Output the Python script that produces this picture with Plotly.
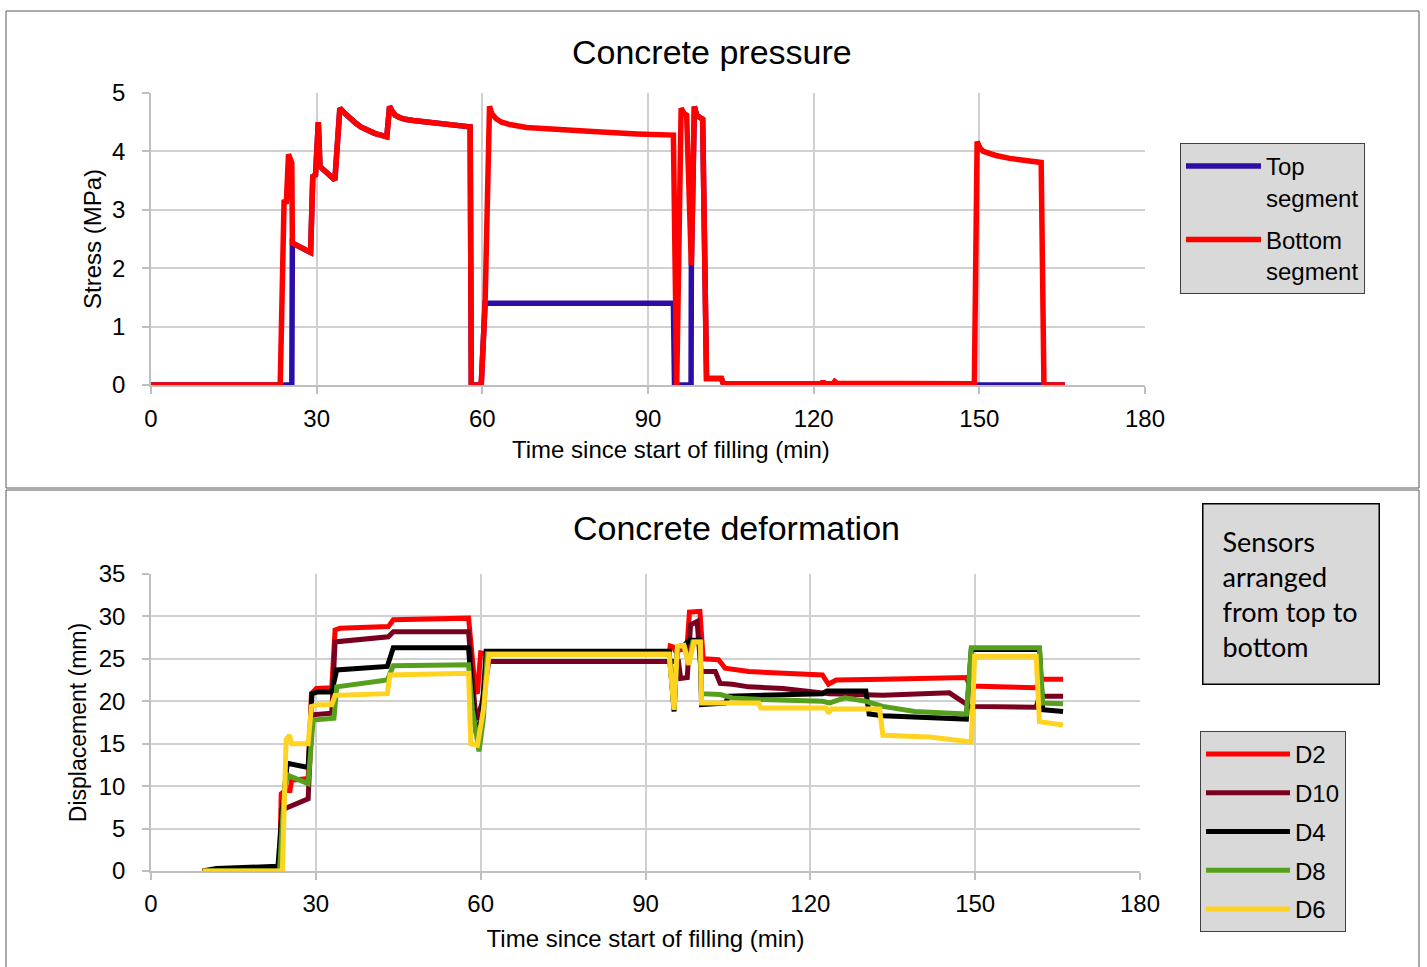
import plotly.graph_objects as go

# ---------------- Concrete pressure (top) ----------------
bottom_seg_t = [0, 23.4, 24.1, 24.5, 24.9, 25.5, 25.6, 28.9, 29.3, 29.8, 30.3, 30.6, 33.3, 34.2,
                34.8, 35.4, 36.2, 37, 38, 39, 40.5, 42.7, 43.2, 43.6, 44.2, 45, 46, 47.5, 49.3,
                53, 57.8, 58.0, 59.8, 60.5, 61.3, 61.7, 62.5, 63.5, 65, 68, 72, 80, 88, 94.6,
                95.2, 96.0, 96.6, 97.0, 97.85, 98.4, 98.8, 99.9, 100.6, 102.6, 103.3, 103.7,
                121.5, 121.7, 121.9, 123.5, 123.8, 124.2, 149.1, 149.6, 150.1, 150.7, 151.5,
                153, 155.5, 158, 161.2, 161.7, 165.5]
bottom_seg_s = [0, 0, 3.17, 3.1, 3.95, 3.8, 2.43, 2.27, 3.57, 3.6, 4.5, 3.74, 3.51, 4.74,
                4.68, 4.62, 4.55, 4.49, 4.42, 4.37, 4.31, 4.25, 4.77, 4.70, 4.62, 4.58, 4.55,
                4.53, 4.51, 4.47, 4.42, 0, 0, 1.40, 4.77, 4.65, 4.56, 4.50, 4.46, 4.41, 4.38,
                4.34, 4.30, 4.28, 0, 4.74, 4.64, 4.62, 2.05, 4.77, 4.62, 4.55, 0.11, 0.12, 0.11,
                0.02, 0.02, 0.07, 0.02, 0.02, 0.06, 0.03, 0.02, 4.17, 4.06, 4.0, 3.97, 3.93,
                3.88, 3.84, 3.81, 0, 0]

top_seg_t = [0, 25.5, 25.6, 28.9, 29.3, 29.8, 30.3, 30.6, 33.3, 34.2, 34.8, 35.4, 36.2, 37, 38,
             39, 40.5, 42.7, 43.2, 43.6, 44.2, 45, 46, 47.5, 49.3, 53, 57.8, 58.0, 59.8, 60.5,
             94.6, 94.8, 97.8, 97.85, 98.4, 98.8, 99.9, 100.6, 102.6, 103.3, 103.7, 165.5]
top_seg_s = [0, 0, 2.43, 2.27, 3.57, 3.6, 4.5, 3.74, 3.51, 4.74, 4.68, 4.62, 4.55, 4.49, 4.42,
             4.37, 4.31, 4.25, 4.77, 4.70, 4.62, 4.58, 4.55, 4.53, 4.51, 4.47, 4.42, 0, 0, 1.40,
             1.40, 0, 0, 2.05, 4.77, 4.62, 4.55, 0.11, 0.12, 0.11, 0, 0]

# ---------------- Concrete deformation (bottom) ----------------
d2_t = [9.4, 23.4, 23.7, 24.5, 25.3, 25.6, 28.6, 29.2, 30.1, 32.9, 33.5, 34.4, 43.2, 44.1, 57.8,
        58.2, 59.0, 59.4, 60.0, 61.0, 94.3, 94.5, 95.0, 95.5, 97.0, 97.6, 98.0, 99.9, 100.5,
        103.3, 104.5, 108.8, 117.9, 122.2, 123.3, 124.7, 133.2, 148.4, 149.0, 161.1, 161.7, 166]
d2_v = [0, 0, 9.1, 9.5, 9.5, 10.7, 10.9, 20.9, 21.5, 21.6, 28.4, 28.6, 28.8, 29.6, 29.8,
        27.0, 21.5, 20.9, 25.7, 25.6, 25.6, 26.5, 26.4, 25.9, 26.2, 26.8, 30.5, 30.6, 25.0,
        24.9, 23.9, 23.5, 23.3, 23.1, 22.0, 22.5, 22.6, 22.8, 21.8, 21.6, 22.6, 22.6]

d10_t = [9.4, 23.4, 23.8, 25.0, 25.6, 28.6, 29.3, 32.9, 33.5, 37.4, 43.2, 44.1, 57.8, 58.3, 59.0,
         59.4, 60.3, 61.5, 94.5, 96.0, 96.4, 97.6, 98.2, 99.4, 100.1, 102.7, 103.6, 105.8,
         108.8, 115, 123.5, 133.2, 145.3, 149.0, 161.1, 161.7, 166]
d10_v = [0, 0, 7.2, 7.5, 7.8, 8.5, 18.4, 18.6, 27.0, 27.2, 27.6, 28.2, 28.2, 24.0, 19.0,
         17.8, 20.0, 24.7, 24.7, 24.7, 22.7, 22.8, 29.0, 29.4, 23.5, 23.5, 22.1, 22.0,
         21.7, 21.5, 20.9, 20.7, 21.0, 19.4, 19.3, 20.6, 20.6]

d4_t = [9.4, 11.9, 23.1, 23.9, 24.8, 28.6, 29.3, 30.4, 32.9, 33.8, 43.0, 44.1, 57.8, 58.5, 59.2,
        60.2, 61.0, 94.3, 95.2, 95.8, 97.0, 98.0, 99.9, 100.2, 104.5, 105.2, 122.2, 123.0,
        130.1, 130.7, 133.2, 148.4, 149.3, 161.7, 162.3, 166]
d4_v = [0, 0.3, 0.55, 7.2, 12.7, 12.2, 20.9, 21.1, 21.1, 23.7, 24.1, 26.3, 26.3, 20.0, 16.2,
        18.0, 25.9, 25.9, 18.8, 26.4, 26.6, 27.2, 27.2, 19.6, 19.8, 20.6, 20.9, 21.2,
        21.2, 18.5, 18.3, 17.9, 26.1, 26.1, 19.0, 18.8]

d8_t = [9.4, 23.4, 24.2, 24.8, 28.6, 29.5, 33.3, 33.8, 43.0, 44.1, 57.8, 58.5, 59.7, 60.5, 61.2,
        94.3, 95.2, 95.8, 97.0, 97.9, 98.6, 99.9, 100.2, 103.6, 105.8, 111, 122.2, 123.5,
        126.3, 130.1, 133.2, 139, 148.4, 149.3, 161.7, 162.3, 166]
d8_v = [0, 0, 9.0, 11.3, 10.3, 17.8, 18.0, 21.7, 22.5, 24.2, 24.3, 19.0, 14.1, 18.0, 25.6,
        25.6, 19.2, 26.4, 26.5, 24.5, 27.0, 27.0, 20.9, 20.8, 20.4, 20.2, 20.0, 19.8,
        20.4, 20.0, 19.4, 18.8, 18.5, 26.3, 26.3, 19.8, 19.7]

d6_t = [9.4, 23.9, 24.6, 25.2, 25.6, 28.6, 29.2, 30.4, 32.9, 33.5, 43.0, 43.5, 57.8, 58.2, 59.4,
        60.0, 60.5, 61.5, 94.3, 95.2, 95.8, 97.0, 97.9, 98.8, 100.0, 100.2, 110.6, 111.0,
        122.9, 123.3, 123.8, 132.6, 133.2, 141.7, 149.3, 149.9, 161.1, 161.7, 166]
d6_v = [0, 0, 15.5, 16.0, 15.0, 15.0, 19.4, 19.6, 19.6, 20.7, 20.9, 23.1, 23.3, 15.0, 14.8,
        17.0, 19.0, 25.5, 25.5, 19.0, 26.5, 26.6, 24.3, 27.0, 27.0, 19.8, 19.8, 19.2,
        19.2, 18.6, 19.1, 19.1, 16.0, 15.8, 15.2, 25.3, 25.3, 17.6, 17.2]

x_ticks = [0, 30, 60, 90, 120, 150, 180]
stress_ticks = [0, 1, 2, 3, 4, 5]
disp_ticks = [0, 5, 10, 15, 20, 25, 30, 35]

FONT = "Liberation Sans, Arial, sans-serif"
W, H = 1427, 967

fig = go.Figure()

fig.add_trace(go.Scatter(x=top_seg_t, y=top_seg_s, mode="lines", name="Top<br>segment",
                         legendgroup="top",
                         line=dict(color="#2e0ca6", width=5.5), xaxis="x", yaxis="y", legend="legend"))
fig.add_trace(go.Scatter(x=bottom_seg_t, y=bottom_seg_s, mode="lines", name="Bottom<br>segment",
                         legendgroup="bottom",
                         line=dict(color="#ff0000", width=5.5), xaxis="x", yaxis="y", legend="legend"))

series = [("D2", d2_t, d2_v, "#ff0000"),
          ("D10", d10_t, d10_v, "#7a0020"),
          ("D4", d4_t, d4_v, "#000000"),
          ("D8", d8_t, d8_v, "#57a01e"),
          ("D6", d6_t, d6_v, "#ffd320")]
for name, t, v, c in series:
    fig.add_trace(go.Scatter(x=t, y=v, mode="lines", name=name, legendgroup=name,
                             line=dict(color=c, width=5), xaxis="x2", yaxis="y2", legend="legend2"))

axis_common = dict(showgrid=True, gridcolor="#d0d0d0", gridwidth=1.5, zeroline=False,
                   showline=True, linecolor="#bfbfbf", linewidth=1.5, ticks="outside",
                   ticklen=7, tickcolor="#bfbfbf", tickwidth=1.5,
                   tickfont=dict(family=FONT, size=24, color="#000000"), automargin=False)

fig.update_layout(
    width=W, height=H, margin=dict(l=0, r=0, t=0, b=0),
    paper_bgcolor="white", plot_bgcolor="white",
    font=dict(family=FONT, color="#000000"),
    xaxis=dict(domain=[151 / W, 1145 / W], range=[0, 180], tickvals=x_ticks,
               ticklabelstandoff=4, anchor="y", **axis_common),
    yaxis=dict(domain=[1 - 385 / H, 1 - 93 / H], range=[0, 5], tickvals=stress_ticks,
               ticklabelstandoff=12, anchor="x",
               title=dict(text="Stress (MPa)", standoff=4, font=dict(family=FONT, size=24)),
               **axis_common),
    xaxis2=dict(domain=[151 / W, 1140 / W], range=[0, 180], tickvals=x_ticks,
                ticklabelstandoff=3, anchor="y2",
                title=dict(text="Time since start of filling (min)", standoff=15,
                           font=dict(family=FONT, size=24)), **axis_common),
    yaxis2=dict(domain=[1 - 871 / H, 1 - 574 / H], range=[0, 35], tickvals=disp_ticks,
                ticklabelstandoff=12, anchor="x2",
                title=dict(text="Displacement (mm)", standoff=6, font=dict(family=FONT, size=23)),
                **axis_common),
    legend=dict(x=1180 / W, y=1 - 143 / H, xanchor="left", yanchor="top",
                bgcolor="#d9d9d9", bordercolor="#404040", borderwidth=1,
                font=dict(family=FONT, size=24, color="#000000"), valign="top",
                tracegroupgap=8, itemwidth=75, entrywidth=205, entrywidthmode="pixels"),
    legend2=dict(x=1200 / W, y=1 - 731 / H, xanchor="left", yanchor="top",
                 bgcolor="#d9d9d9", bordercolor="#404040", borderwidth=1,
                 font=dict(family=FONT, size=24, color="#000000"),
                 tracegroupgap=4.5, itemwidth=84, entrywidth=170, entrywidthmode="pixels"),
    showlegend=True,
)

fig.add_annotation(text="Concrete pressure", x=712 / W, y=1 - 52 / H, xref="paper", yref="paper",
                   showarrow=False, xanchor="center", yanchor="middle",
                   font=dict(family=FONT, size=34, color="#000000"))
fig.add_annotation(text="Time since start of filling (min)", x=671 / W, y=1 - 450 / H,
                   xref="paper", yref="paper", showarrow=False, xanchor="center", yanchor="middle",
                   font=dict(family=FONT, size=24, color="#000000"))
fig.add_annotation(text="Concrete deformation", x=736 / W, y=1 - 528 / H, xref="paper", yref="paper",
                   showarrow=False, xanchor="center", yanchor="middle",
                   font=dict(family=FONT, size=34, color="#000000"))
fig.add_annotation(text="Sensors<br>arranged<br>from top to<br>bottom",
                   x=1202 / W, y=1 - 503 / H, xref="paper", yref="paper",
                   showarrow=False, xanchor="left", yanchor="top", align="left", valign="middle",
                   width=137, height=141, borderpad=19,
                   bgcolor="#d9d9d9", bordercolor="#000000", borderwidth=1.5,
                   font=dict(family="Lato, Carlito, sans-serif", size=27, color="#000000"))

# panel frames
fig.add_shape(type="rect", xref="paper", yref="paper", x0=6 / W, x1=1419 / W,
              y0=1 - 488 / H, y1=1 - 11 / H, line=dict(color="#595959", width=1))
fig.add_shape(type="rect", xref="paper", yref="paper", x0=6 / W, x1=1419 / W,
              y0=-0.01, y1=1 - 490 / H, line=dict(color="#595959", width=1))

fig.write_html("out.html", config={"displayModeBar": False},
               post_script="document.body.style.margin='0px';")
